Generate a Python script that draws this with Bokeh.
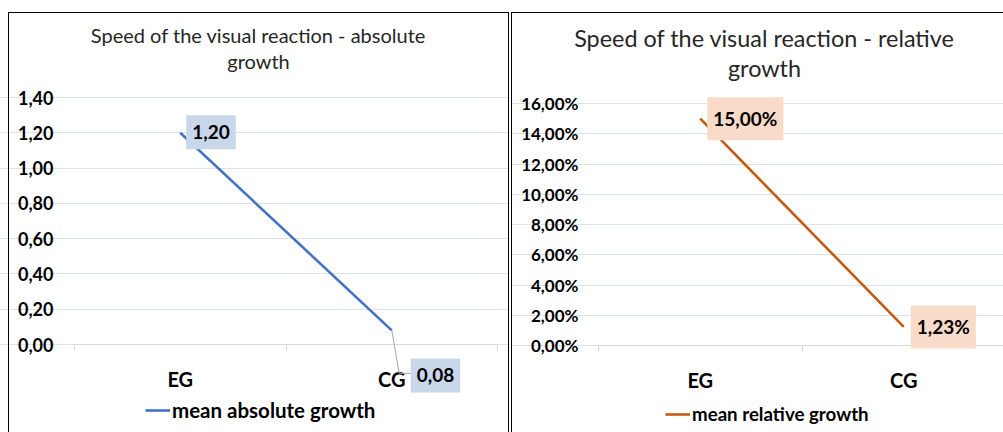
from bokeh.plotting import figure
from bokeh.layouts import row
from bokeh.models import (Range1d, FixedTicker, Label, Legend, LegendItem,
                          Arrow, InlineStyleSheet, LinearAxis, Grid)
from bokeh.embed import file_html
from bokeh.resources import INLINE

# ---- data -------------------------------------------------------------
groups = ["EG", "CG"]
abs_growth = [1.20, 0.08]          # mean absolute growth
rel_growth = [0.15, 0.0123]        # mean relative growth (fraction)
abs_ticks = [0.0, 0.2, 0.4, 0.6, 0.8, 1.0, 1.2, 1.4]
rel_ticks = [0.0, 0.02, 0.04, 0.06, 0.08, 0.10, 0.12, 0.14, 0.16]

FONT = "Lato"
BLUE = "#4472c4"
ORANGE = "#c55a11"
GRID = "#dbe2ea"
AXIS = "#d9d9d9"
PAD_H, PAD_V = 6, 10
H = 432

xs = [i + 0.5 for i in range(len(groups))]          # category centres
bounds = [float(i) for i in range(len(groups) + 1)]  # category boundaries
n = len(groups)


def comma(v, digits=2):
    return f"{v:.{digits}f}".replace(".", ",")


def pct(v):
    return comma(v * 100) + "%"


def frame_css(left, top, width, right_border=True):
    rb = "" if right_border else "border-right:none;"
    css = (":host::after{content:'';position:absolute;"
           f"left:{left}px;top:{top}px;width:{width}px;height:{H - top}px;"
           "border:1.6px solid #000;border-bottom:none;" + rb +
           "box-sizing:border-box;pointer-events:none;}")
    return InlineStyleSheet(css=css)


def chart(width, plot_box, y_max, sheet):
    """Figure whose frame fills the canvas; plot_box = pixel box of the
    plotting area (left, right, top, bottom)."""
    left, right, top, bottom = plot_box
    kx = (right - left) / n                 # px per category
    ky = (bottom - top) / y_max             # px per y unit
    p = figure(width=width, height=H, output_backend="svg",
               toolbar_location=None, title=None,
               x_range=Range1d(-left / kx, (width - left) / kx),
               y_range=Range1d(-(H - bottom) / ky, y_max + top / ky),
               min_border=0, min_border_left=0, min_border_right=0,
               min_border_top=0, min_border_bottom=0,
               x_axis_location=None, y_axis_location=None,
               stylesheets=[sheet])
    p.outline_line_color = None
    p.background_fill_color = "white"
    p.border_fill_color = "white"
    p.xgrid.grid_line_color = None
    p.ygrid.grid_line_color = None
    return p, kx, ky


def add_axes(p, yticks, ylabels, y_size, y_standoff):
    xa = LinearAxis(fixed_location=0, bounds=(0, n),
                    ticker=FixedTicker(ticks=xs, minor_ticks=bounds),
                    major_label_overrides={x: g for x, g in zip(xs, groups)},
                    axis_line_color=AXIS, axis_line_width=1.2,
                    major_tick_line_color=None, major_tick_in=0,
                    major_tick_out=0, minor_tick_line_color=AXIS,
                    minor_tick_line_width=1.2, minor_tick_in=0,
                    minor_tick_out=6, major_label_standoff=16,
                    major_label_text_font=FONT,
                    major_label_text_font_style="bold",
                    major_label_text_font_size="20px",
                    major_label_text_color="black")
    ya = LinearAxis(fixed_location=0, bounds=(yticks[0], yticks[-1]),
                    ticker=FixedTicker(ticks=yticks),
                    major_label_overrides=dict(zip(yticks, ylabels)),
                    axis_line_color=None, major_tick_line_color=None,
                    major_tick_in=0, major_tick_out=0,
                    minor_tick_line_color=None, minor_tick_in=0,
                    minor_tick_out=0, major_label_standoff=y_standoff,
                    major_label_text_font=FONT,
                    major_label_text_font_style="bold",
                    major_label_text_font_size=y_size,
                    major_label_text_color="black")
    p.add_layout(xa, "below")
    p.add_layout(ya, "left")
    p.add_layout(Grid(dimension=1, ticker=ya.ticker, bounds=(0, n),
                      grid_line_color=GRID, grid_line_width=1.2,
                      level="underlay"), "center")


def add_title(p, lines, cx, ys, size):
    for text, y in zip(lines, ys):
        p.add_layout(Label(x=cx, y=y, x_units="canvas", y_units="canvas",
                           text=text, text_align="center",
                           text_baseline="alphabetic", text_font=FONT,
                           text_font_size=size, text_color="#262626"))


def add_legend(p, r, text, loc, size):
    p.add_layout(Legend(items=[LegendItem(label=text, renderers=[r])],
                        location=loc, orientation="horizontal", padding=0,
                        margin=0, glyph_width=25, glyph_height=20,
                        label_height=20, label_standoff=2,
                        label_text_font=FONT, label_text_font_style="bold",
                        label_text_font_size=size,
                        label_text_color="black", background_fill_alpha=0,
                        border_line_color=None))


def value_label(p, x, y, text, fill, gap, dy):
    p.add_layout(Label(x=x, y=y, x_offset=gap, y_offset=dy,
                       text=text, text_align="left", text_baseline="middle",
                       text_font=FONT, text_font_style="bold",
                       text_font_size="19px", text_color="black",
                       background_fill_color=fill, padding=(PAD_H, PAD_V),
                       level="overlay"))


# ---- left: absolute growth --------------------------------------------
pa, kx, ky = chart(510, (74, 497, 97, 344), abs_ticks[-1],
                   frame_css(8, 12, 501))
add_axes(pa, abs_ticks, [comma(t) for t in abs_ticks], "18px", 21)
ra = pa.line(xs, abs_growth, line_color=BLUE, line_width=2.6)

# leader line from the CG point down to its label
bend_x = xs[1] + 7.5 / kx
bend_y = abs_growth[1] - 43 / ky
for x0, y0, x1, y1 in [(xs[1], abs_growth[1], bend_x, bend_y),
                       (bend_x, bend_y, bend_x + 12 / kx, bend_y)]:
    pa.add_layout(Arrow(x_start=x0, y_start=y0, x_end=x1, y_end=y1,
                        end=None, line_color="#a6a6a6", line_width=1))

value_label(pa, xs[0], abs_growth[0], comma(abs_growth[0]), "#c9d7ea",
            6, 0.5)
value_label(pa, xs[1], abs_growth[1], comma(abs_growth[1]), "#c9d7ea",
            19, -45)
add_title(pa, ["Speed of the visual reaction - absolute", "growth"],
          258, [34, 60], "20px")
add_legend(pa, ra, "mean absolute growth", (145, 10), "20.5px")

# ---- right: relative growth -------------------------------------------
pr, kx2, ky2 = chart(493, (88, 88 + 407, 103, 345), rel_ticks[-1],
                     frame_css(1, 12, 492, right_border=False))
add_axes(pr, rel_ticks, [pct(t) for t in rel_ticks], "17px", 20)
rr = pr.line(xs, rel_growth, line_color=ORANGE, line_width=2.6)

value_label(pr, xs[0], rel_growth[0], pct(rel_growth[0]), "#f8dbc8",
            7, 0)
value_label(pr, xs[1], rel_growth[1], pct(rel_growth[1]), "#f8dbc8",
            7, 0)
add_title(pr, ["Speed of the visual reaction - relative", "growth"],
          254, [37, 67], "23.4px")
add_legend(pr, rr, "mean relative growth", (155, 7), "18.7px")

layout = row(pa, pr)
open("out.html", "w").write(file_html(layout, INLINE))
